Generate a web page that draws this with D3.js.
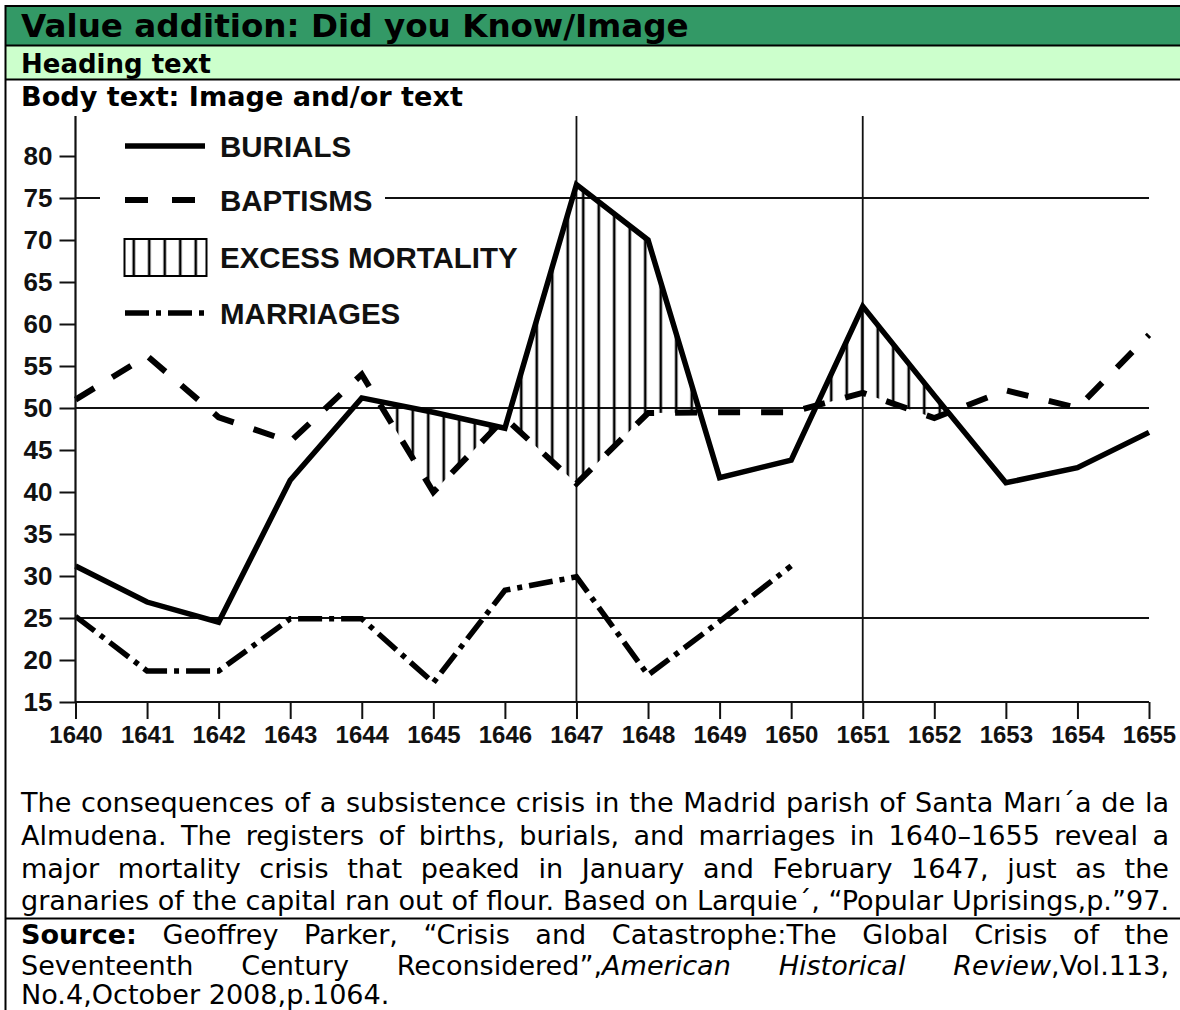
<!DOCTYPE html>
<meta charset="utf-8">
<head>
  <title>Santa María de la Almudena: burials, baptisms, marriages</title>
</head>

<style>
body {
  margin: 0;
  background: #fff;
}
svg {
  display: block;
}
.chart text {
  font-family: "Liberation Sans", Arial, Helvetica, sans-serif;
  font-weight: bold;
  fill: #111;
}
.box text {
  font-family: "DejaVu Sans", Verdana, sans-serif;
  fill: #000;
}
</style>

<body>
  <svg width="1180" height="1010"></svg>

  <script src="https://cdnjs.cloudflare.com/ajax/libs/d3/7.8.5/d3.min.js"></script>
  <script>
// values (registers per year)
var years = [1640, 1641, 1642, 1643, 1644, 1645, 1646, 1647, 1648, 1649, 1650, 1651, 1652, 1653, 1654, 1655];
var burials = [31.2, 26.9, 24.5, 41.4, 51.2, 49.5, 47.6, 76.6, 70.0, 41.7, 43.8, 62.1, 51.5, 41.1, 42.9, 47.1];
var baptisms = [51.0, 56.2, 48.9, 46.0, 54.0, 40.0, 48.8, 41.0, 49.4, 49.5, 49.5, 51.8, 48.8, 52.1, 50.0, 58.7];
var marriageYears = [1640, 1641, 1642, 1643, 1644, 1645, 1646, 1647, 1648, 1649, 1650];
var marriages = [25.2, 18.7, 18.7, 24.9, 24.9, 17.3, 28.3, 29.9, 18.2, 24.6, 31.2];

var yTicks = [15, 20, 25, 30, 35, 40, 45, 50, 55, 60, 65, 70, 75, 80];
var gridValues = [25, 50, 75];
var gridYears = [1647, 1651];
var legendLabels = ["BURIALS", "BAPTISMS", "EXCESS MORTALITY", "MARRIAGES"];

var titleText = "Value addition: Did you Know/Image";
var headingText = "Heading text";
var bodyText = "Body text: Image and/or text";
var captionLines = [
  "The consequences of a subsistence crisis in the Madrid parish of Santa Marı´a de la",
  "Almudena. The registers of births, burials, and marriages in 1640–1655 reveal a",
  "major mortality crisis that peaked in January and February 1647, just as the",
  "granaries of the capital ran out of flour. Based on Larquie´, “Popular Uprisings,p.”97."
];
var sourceLines = [
  [["Source:", "b"], [" Geoffrey Parker, “Crisis and Catastrophe:The Global Crisis of the", ""]],
  [["Seventeenth Century Reconsidered”,", ""], ["American Historical Review", "i"], [",Vol.113,", ""]],
  [["No.4,October 2008,p.1064.", ""]]
];

var svg = d3.select("svg");
var W = 1180, H = 1010;

// ---- frame and header bands ----
var box = svg.append("g").attr("class", "box");
box.append("rect").attr("x", 6).attr("y", 6).attr("width", W).attr("height", 39).attr("fill", "#339966");
box.append("rect").attr("x", 6).attr("y", 46).attr("width", W).attr("height", 33).attr("fill", "#ccffcc");
[6, 45.5, 79.5, 918.5].forEach(function(yy) {
  box.append("line").attr("x1", 5).attr("x2", W).attr("y1", yy).attr("y2", yy)
    .attr("stroke", "#000").attr("stroke-width", 2);
});
box.append("line").attr("x1", 5.5).attr("x2", 5.5).attr("y1", 5).attr("y2", H)
  .attr("stroke", "#000").attr("stroke-width", 2);

function fitText(str, x, yb, target, base) {
  var t = box.append("text").attr("x", x).attr("y", yb)
    .attr("font-weight", "bold").attr("font-size", base).text(str);
  var w = t.node().getComputedTextLength();
  t.attr("font-size", base * target / w);
  return t;
}
fitText(titleText, 21, 37, 668, 30);
fitText(headingText, 21, 73, 190, 26);
fitText(bodyText, 21, 106, 442, 25);

// ---- chart ----
var chartTop = 116;
var x = d3.scaleLinear().domain([1640, 1655]).range([75.5, 1149]);
var y = d3.scaleLinear().domain([15, 80]).range([702, 156]);

var chart = svg.append("g").attr("class", "chart");

var rows = years.map(function(yr, i) {
  return { year: yr, bur: burials[i], bap: baptisms[i] };
});
var mRows = marriageYears.map(function(yr, i) {
  return { year: yr, v: marriages[i] };
});

// grid
chart.selectAll(".hgrid").data(gridValues).enter().append("line")
  .attr("x1", x(1640)).attr("x2", x(1655))
  .attr("y1", function(d) { return y(d); }).attr("y2", function(d) { return y(d); })
  .attr("stroke", "#111").attr("stroke-width", 1.8);
chart.selectAll(".vgrid").data(gridYears).enter().append("line")
  .attr("x1", function(d) { return x(d); }).attr("x2", function(d) { return x(d); })
  .attr("y1", chartTop).attr("y2", y(15))
  .attr("stroke", "#111").attr("stroke-width", 1.8);

// hatch pattern
var defs = svg.append("defs");
var pat = defs.append("pattern").attr("id", "hatch").attr("patternUnits", "userSpaceOnUse")
  .attr("x", 2).attr("y", 0).attr("width", 15.5).attr("height", 40);
pat.append("line").attr("x1", 7.75).attr("x2", 7.75).attr("y1", 0).attr("y2", 40)
  .attr("stroke", "#000").attr("stroke-width", 2.6);

// excess mortality: below burials and above baptisms
defs.append("clipPath").attr("id", "belowBurials").append("path")
  .attr("d", d3.area().x(function(d) { return x(d.year); })
    .y0(y(15)).y1(function(d) { return y(d.bur); })(rows));
chart.append("path")
  .attr("d", d3.area().x(function(d) { return x(d.year); })
    .y0(chartTop).y1(function(d) { return y(d.bap); })(rows))
  .attr("fill", "url(#hatch)")
  .attr("clip-path", "url(#belowBurials)");

// series lines
var line = d3.line().x(function(d) { return x(d.year); });
chart.append("path")
  .attr("d", line.y(function(d) { return y(d.bap); })(rows))
  .attr("fill", "none").attr("stroke", "#000").attr("stroke-width", 6)
  .attr("stroke-dasharray", "22,21");
chart.append("path")
  .attr("d", line.y(function(d) { return y(d.v); })(mRows))
  .attr("fill", "none").attr("stroke", "#000").attr("stroke-width", 5.5)
  .attr("stroke-dasharray", "24,7,5,7");
chart.append("path")
  .attr("d", line.y(function(d) { return y(d.bur); })(rows))
  .attr("fill", "none").attr("stroke", "#000").attr("stroke-width", 5.5)
  .attr("stroke-linejoin", "miter");

// axes
var yAxis = chart.append("g").attr("transform", "translate(" + x(1640) + ",0)")
  .call(d3.axisLeft(y).tickValues(yTicks).tickSize(16).tickPadding(7));
yAxis.select(".domain").remove();
yAxis.selectAll("line").attr("stroke", "#111").attr("stroke-width", 2);
yAxis.selectAll("text").attr("font-size", 26).attr("fill", "#111");

var xAxis = chart.append("g").attr("transform", "translate(0," + y(15) + ")")
  .call(d3.axisBottom(x).tickValues(years).tickFormat(d3.format("d")).tickSize(17).tickPadding(7));
xAxis.select(".domain").remove();
xAxis.selectAll("line").attr("stroke", "#111").attr("stroke-width", 2);
xAxis.selectAll("text").attr("font-size", 24).attr("fill", "#111");

chart.append("line").attr("x1", x(1640)).attr("x2", x(1640)).attr("y1", chartTop).attr("y2", y(15))
  .attr("stroke", "#111").attr("stroke-width", 2.2);
chart.append("line").attr("x1", x(1640)).attr("x2", x(1655)).attr("y1", y(15)).attr("y2", y(15))
  .attr("stroke", "#111").attr("stroke-width", 2.2);

// legend
var leg = chart.append("g");
leg.append("rect").attr("x", 100).attr("y", 125).attr("width", 285).attr("height", 205).attr("fill", "#fff");
var rowY = [146, 200, 257, 313];
var items = leg.selectAll(".item").data(legendLabels).enter().append("g")
  .attr("transform", function(d, i) { return "translate(0," + rowY[i] + ")"; });
items.append("text").attr("x", 220).attr("dy", "0.36em").attr("font-size", 29.5).text(function(d) { return d; });
var dashes = [null, "23,24", null, "24,7,5,7"];
items.filter(function(d, i) { return i != 2; }).append("line")
  .attr("x1", 125).attr("x2", 205).attr("y1", 0).attr("y2", 0)
  .attr("stroke", "#000").attr("stroke-width", function(d, i) { return i == 1 ? 6 : 5.5; })
  .attr("stroke-dasharray", function(d) { return dashes[legendLabels.indexOf(d)]; });
items.filter(function(d, i) { return i == 2; }).append("rect")
  .attr("x", 124.5).attr("y", -18).attr("width", 82).attr("height", 37)
  .attr("fill", "url(#hatch)").attr("stroke", "#000").attr("stroke-width", 2);

// ---- caption and source, justified ----
var capX0 = 21, capX1 = 1169;
function wordsOf(segs) {
  var words = [[]];
  segs.forEach(function(s) {
    s[0].split(" ").forEach(function(p, i) {
      if (i > 0) words.push([]);
      if (p) words[words.length - 1].push({ t: p, st: s[1] });
    });
  });
  return words.filter(function(w) { return w.length; });
}
function drawLine(segs, yb, fs, justify) {
  var words = wordsOf(segs);
  var nodes = words.map(function(w) {
    var t = box.append("text").attr("y", yb).attr("font-size", fs);
    w.forEach(function(s) {
      t.append("tspan").text(s.t)
        .attr("font-weight", s.st == "b" ? "bold" : null)
        .attr("font-style", s.st == "i" ? "italic" : null);
    });
    return t;
  });
  var widths = nodes.map(function(n) { return n.node().getComputedTextLength(); });
  var gap = justify ? (capX1 - capX0 - d3.sum(widths)) / (words.length - 1) : fs * 0.318;
  var cx = capX0;
  nodes.forEach(function(n, i) { n.attr("x", cx); cx += widths[i] + gap; });
}

// size the caption so that its last line fills the width with plain spaces
var probe = box.append("text").attr("font-size", 22).text(captionLines[3]);
var capFs = 22 * (capX1 - capX0) / probe.node().getComputedTextLength();
probe.remove();

var capY = [812, 845, 878, 910];
captionLines.forEach(function(l, i) { drawLine([[l, ""]], capY[i], capFs, true); });
var srcY = [944, 975, 1004];
sourceLines.forEach(function(l, i) { drawLine(l, srcY[i], capFs, i < 2); });
  </script>
</body>
</html>
